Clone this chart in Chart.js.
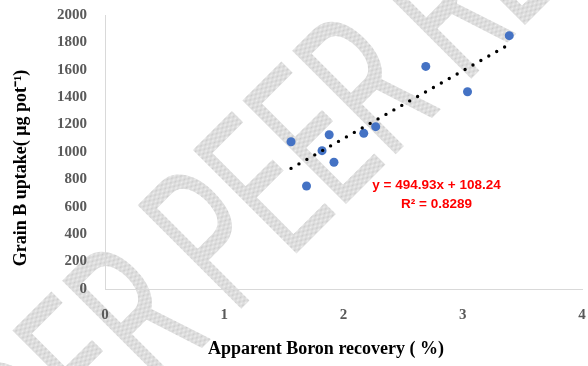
<!DOCTYPE html>
<html>
<head>
<meta charset="utf-8">
<script src="https://cdn.jsdelivr.net/npm/chart.js@4/dist/chart.umd.min.js"></script>
<style>
  html, body { margin: 0; padding: 0; background: #ffffff; }
  #wrap { width: 588px; height: 366px; }
</style>
</head>
<body>
<div id="wrap"><canvas id="chart" width="588" height="366"></canvas></div>
<script>
// Apparent boron recovery (%) against grain boron uptake (µg per pot)
const recovery = [1.56, 1.69, 1.82, 1.88, 1.92, 2.17, 2.27, 2.69, 3.04, 3.39];
const uptake   = [1075, 752, 1010, 1126, 925, 1136, 1185, 1625, 1440, 1849];

// Axis ticks
const xTicks = [0, 1, 2, 3, 4];
const yTicks = [0, 200, 400, 600, 800, 1000, 1200, 1400, 1600, 1800, 2000];

// Linear fit as printed on the chart
const slope = 494.93;
const intercept = 108.24;
const rSquared = 0.8289;

const xTitle = 'Apparent Boron recovery ( %)';
const yTitle = 'Grain B uptake( \u03bcg pot\u207b\u00b9)';
const stampWords = ['UNDER ', 'PEER REVIEW'];

const points = recovery.map((x, i) => ({ x, y: uptake[i] }));
const xMin = Math.min(...recovery);
const xMax = Math.max(...recovery);
const fitLine = [xMin, xMax].map(x => ({ x, y: slope * x + intercept }));

const fmt = (v, d) => v.toFixed(d);
const eqText = 'y = ' + fmt(slope, 2) + 'x + ' + fmt(intercept, 2);
const r2Text = 'R\u00b2 = ' + fmt(rSquared, 4);

const serif = '"Liberation Serif", "Times New Roman", serif';

// light dithered fill for the diagonal stamp
function ditherPattern(ctx) {
  const c = document.createElement('canvas');
  c.width = 2; c.height = 2;
  const g = c.getContext('2d');
  g.fillStyle = '#efefef'; g.fillRect(0, 0, 2, 2);
  g.fillStyle = '#cbcbcb'; g.fillRect(0, 0, 1, 1); g.fillRect(1, 1, 1, 1);
  return ctx.createPattern(c, 'repeat');
}

const backdrop = {
  id: 'backdrop',
  beforeDraw(chart) {
    const ctx = chart.ctx;
    ctx.save();
    ctx.fillStyle = '#ffffff';
    ctx.fillRect(0, 0, chart.width, chart.height);
    ctx.translate(234, 316);
    ctx.rotate(-Math.PI / 4);
    ctx.scale(0.6, 1);
    ctx.font = '400 206px Roboto, "Open Sans", sans-serif';
    ctx.fillStyle = ditherPattern(ctx);
    ctx.textBaseline = 'alphabetic';
    ctx.textAlign = 'left';
    const lead = ctx.measureText(stampWords[0]).width;
    ctx.fillText(stampWords[0], -lead, 0);
    ctx.fillText(stampWords[1], 0, 0);
    ctx.restore();
  }
};

const annotations = {
  id: 'annotations',
  afterDraw(chart) {
    const ctx = chart.ctx;
    const xs = chart.scales.x, ys = chart.scales.y;
    ctx.save();
    // fit equation
    ctx.fillStyle = '#ff0000';
    ctx.font = 'bold 13.5px "Liberation Sans", Arial, sans-serif';
    ctx.textAlign = 'center';
    ctx.textBaseline = 'middle';
    const ex = xs.getPixelForValue(2.78);
    ctx.fillText(eqText, ex, ys.getPixelForValue(754));
    ctx.fillText(r2Text, ex, ys.getPixelForValue(620));
    // axis titles
    ctx.fillStyle = '#000000';
    ctx.font = 'bold 18px ' + serif;
    ctx.fillText(xTitle, 326, 349);
    ctx.translate(21, 168);
    ctx.rotate(-Math.PI / 2);
    ctx.fillText(yTitle, 0, 0);
    ctx.restore();
  }
};

const tickFont = { family: serif, size: 15, weight: 'bold' };

new Chart(document.getElementById('chart'), {
  type: 'scatter',
  data: {
    datasets: [
      {
        label: 'Grain B uptake',
        data: points,
        backgroundColor: '#4472c4',
        borderWidth: 0,
        pointRadius: 4.5,
        pointHoverRadius: 4.5,
        order: 2
      },
      {
        label: 'Linear fit',
        type: 'line',
        data: fitLine,
        showLine: true,
        borderColor: '#000000',
        borderWidth: 3.4,
        borderDash: [0, 9.1],
        borderCapStyle: 'round',
        pointRadius: 0,
        fill: false,
        order: 1
      }
    ]
  },
  options: {
    responsive: false,
    animation: false,
    devicePixelRatio: 1,
    layout: { padding: 0 },
    plugins: { legend: { display: false }, tooltip: { enabled: false } },
    scales: {
      x: {
        type: 'linear',
        min: xTicks[0],
        max: xTicks[xTicks.length - 1],
        afterBuildTicks: s => { s.ticks = xTicks.map(v => ({ value: v })); },
        afterFit: s => { s.height = 77; s.paddingLeft = 0; s.paddingRight = 6; },
        grid: { color: 'rgba(0,0,0,0)', drawTicks: false },
        border: { display: true, color: '#d9d9d9', width: 1 },
        ticks: { padding: 17, color: '#595959', font: tickFont, callback: v => String(v) }
      },
      y: {
        type: 'linear',
        min: yTicks[0],
        max: yTicks[yTicks.length - 1],
        afterBuildTicks: s => { s.ticks = yTicks.map(v => ({ value: v })); },
        afterFit: s => { s.width = 105; s.paddingTop = 15; s.paddingBottom = 0; },
        grid: { color: 'rgba(0,0,0,0)', drawTicks: false },
        border: { display: true, color: '#d9d9d9', width: 1 },
        ticks: { padding: 18, color: '#595959', font: tickFont, callback: v => String(v) }
      }
    }
  },
  plugins: [backdrop, annotations]
});
</script>
</body>
</html>
